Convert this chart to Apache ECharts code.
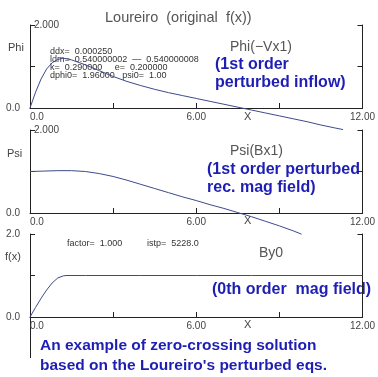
<!DOCTYPE html>
<html><head><meta charset="utf-8">
<script src="https://cdn.jsdelivr.net/npm/echarts@6/dist/echarts.min.js"></script>
<style>html,body{margin:0;padding:0;background:#fff;}#c{width:378px;height:377px;}</style>
</head><body><div id="c"></div>
<script>
// ---- data ----
const phiX = [0,0.2,0.4,0.6,0.8,1.0,1.2,1.5,2,2.5,3,3.5,4,4.5,5,5.5,6,6.5,7,7.5,8,8.5,9,9.5,10,10.5,11,11.3];
const phiY = [0,0.38,0.7,0.94,1.09,1.17,1.2,1.16,1.04,0.9,0.76,0.64,0.54,0.45,0.37,0.3,0.23,0.16,0.09,0.02,-0.05,-0.12,-0.19,-0.26,-0.33,-0.41,-0.48,-0.52];
const psiX = [0,0.5,1,1.5,2,2.5,3,3.5,4,4.5,5,5.5,6,6.5,7,7.5,8,8.5,9,9.5,9.8];
const psiY = [1.0,1.01,1.02,1.02,1.0,0.95,0.88,0.79,0.69,0.59,0.49,0.39,0.3,0.2,0.11,0.01,-0.09,-0.2,-0.31,-0.43,-0.51];
const byX = [0,0.2,0.4,0.6,0.8,1.0,1.2,1.3,2,4,6,8,10,12];
const byY = [0,0.23,0.45,0.65,0.82,0.94,0.99,1.0,1.0,1.0,1.0,1.0,1.0,1.0];
const xTickLabels = {0:'0.0', 6:'6.00', 12:'12.00'};
const yLabelsPhi = {0:'0.0'};
const yLabelsPsi = {0:'0.0'};
const yLabelsBy = {0:'0.0', 2:'2.0'};

const AX = '#222', LC = '#3d4a8c', TXT = '#444', BLUE = '#1e1eb4';
const FF = 'Liberation Sans, Arial, sans-serif';
const grids = [
  {left:30, top:25, width:333, height:83},
  {left:30, top:130, width:333, height:83},
  {left:30, top:234, width:333, height:83}
];
function zip(a,b){return a.map((v,i)=>[v,b[i]]);}
const xAxes = grids.map((g,i)=>({
  type:'value', gridIndex:i, min:0, max:12, interval:3,
  axisLine:{show:true, lineStyle:{color:AX,width:1}},
  axisTick:{show:true, inside:true, length:5, lineStyle:{color:AX}},
  splitLine:{show:false},
  axisLabel:{show:true, margin:4, fontSize:10, color:TXT, fontFamily:FF,
    formatter:v=>xTickLabels[v]!==undefined?xTickLabels[v]:'',
    alignMinLabel:'left'}
}));
const yl = [yLabelsPhi, yLabelsPsi, yLabelsBy];
const yAxes = [];
grids.forEach((g,i)=>{
  yAxes.push({type:'value', gridIndex:i, min:0, max:2, interval:1, position:'left',
    axisLine:{show:true, lineStyle:{color:AX,width:1}},
    axisTick:{show:true, inside:true, length:5, lineStyle:{color:AX}},
    splitLine:{show:false},
    axisLabel:{show:true, margin:10, fontSize:10, color:TXT, fontFamily:FF,
      formatter:v=>yl[i][v]!==undefined?yl[i][v]:''}});
  yAxes.push({type:'value', gridIndex:i, min:0, max:2, interval:1, position:'right',
    axisLine:{show:true, lineStyle:{color:AX,width:1}},
    axisTick:{show:true, inside:true, length:5, lineStyle:{color:AX}},
    splitLine:{show:false}, axisLabel:{show:false}});
});
const mk = (i,x,y)=>({type:'line', xAxisIndex:i, yAxisIndex:i*2, data:zip(x,y), showSymbol:false,
  clip:false, lineStyle:{color:LC,width:1}, silent:true, animation:false});

function t(x,y,text,opts){
  return {type:'text', left:x, top:y, silent:true, style:Object.assign({text:text, fill:TXT, font:'10px '+FF}, opts||{})};
}
const graphics = [
  t(105,10,'Loureiro  (original  f(x))',{font:'14.5px '+FF, fill:'#555'}),
  t(8,42,'Phi',{font:'11px '+FF}),
  t(7,148,'Psi',{font:'11px '+FF}),
  t(5,251,'f(x)',{font:'11px '+FF}),
  t(34,20,'2.000',{font:'10px '+FF}),
  t(34,125,'2.000',{font:'10px '+FF}),
  t(244,111,'X',{font:'11px '+FF}),
  t(244,215,'X',{font:'11px '+FF}),
  t(244,319,'X',{font:'11px '+FF}),
  t(50,47,'ddx=  0.000250',{font:'9px '+FF, fill:'#333'}),
  t(50,55,'ldm=  0.540000002  \u2014  0.540000008',{font:'9px '+FF, fill:'#333'}),
  t(50,63,'k=  0.290000     e=  0.200000',{font:'9px '+FF, fill:'#333'}),
  t(50,71,'dphi0=  1.96000   psi0=  1.00',{font:'9px '+FF, fill:'#333'}),
  t(230,40,'Phi(\u2212Vx1)',{font:'14px '+FF, fill:'#555'}),
  t(215,57,'(1st order',{font:'bold 16px '+FF, fill:BLUE}),
  t(215,75,'perturbed inflow)',{font:'bold 16px '+FF, fill:BLUE}),
  t(230,144,'Psi(Bx1)',{font:'14px '+FF, fill:'#555'}),
  t(207,162,'(1st order perturbed',{font:'bold 16px '+FF, fill:BLUE}),
  t(207,180,'rec. mag field)',{font:'bold 16px '+FF, fill:BLUE}),
  t(67,239,'factor=  1.000',{font:'9px '+FF, fill:'#333'}),
  t(147,239,'istp=  5228.0',{font:'9px '+FF, fill:'#333'}),
  t(259,246,'By0',{font:'14px '+FF, fill:'#555'}),
  t(212,282,'(0th order  mag field)',{font:'bold 16px '+FF, fill:BLUE}),
  t(40,338,'An example of zero-crossing solution',{font:'bold 15.5px '+FF, fill:BLUE}),
  t(40,358,'based on the Loureiro\'s perturbed eqs.',{font:'bold 15.5px '+FF, fill:BLUE}),
  {type:'line', silent:true, shape:{x1:30.5,y1:317,x2:30.5,y2:358}, style:{stroke:AX, lineWidth:1}}
];
const chart = echarts.init(document.getElementById('c'), null, {renderer:'canvas'});
chart.setOption({
  animation:false, backgroundColor:'#fff',
  grid:grids, xAxis:xAxes, yAxis:yAxes,
  series:[mk(0,phiX,phiY), mk(1,psiX,psiY), mk(2,byX,byY)],
  graphic:graphics
});
</script></body></html>
